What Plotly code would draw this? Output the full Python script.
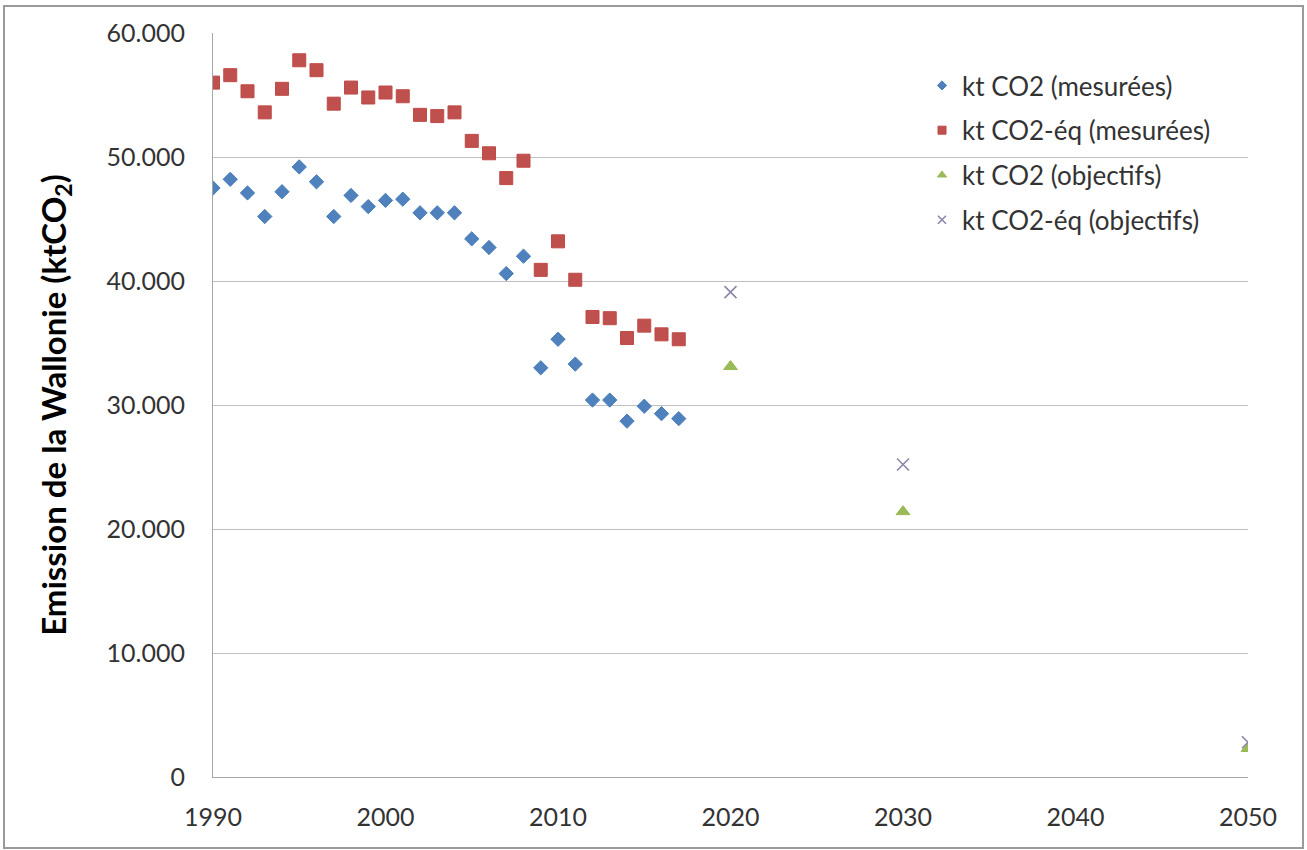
import plotly.graph_objects as go

# ---- data ----
years_meas = [1990, 1991, 1992, 1993, 1994, 1995, 1996, 1997, 1998, 1999,
              2000, 2001, 2002, 2003, 2004, 2005, 2006, 2007, 2008, 2009,
              2010, 2011, 2012, 2013, 2014, 2015, 2016, 2017]
co2_meas = [47500, 48200, 47100, 45200, 47200, 49200, 48000, 45200, 46900, 46000,
            46500, 46600, 45500, 45500, 45500, 43400, 42700, 40600, 42000, 33000,
            35300, 33300, 30400, 30400, 28700, 29900, 29300, 28900]
co2eq_meas = [56000, 56600, 55300, 53600, 55500, 57800, 57000, 54300, 55600, 54800,
              55200, 54900, 53400, 53300, 53600, 51300, 50300, 48300, 49700, 40900,
              43200, 40100, 37100, 37000, 35400, 36400, 35700, 35300]
years_obj = [2020, 2030, 2050]
co2_obj = [33100, 21400, 2300]
co2eq_obj = [39100, 25200, 2800]

series_names = ["kt CO2 (mesurées)", "kt CO2-éq (mesurées)",
                "kt CO2 (objectifs)", "kt CO2-éq (objectifs)"]
y_title = "Emission de la Wallonie (ktCO<sub>2</sub>)"

FONT = "Lato"
TXT = "#333333"

styles = [
    dict(symbol="diamond", color="#4F81BD", line=dict(color="#4A7EBB", width=1)),
    dict(symbol="square", color="#C0504D", line=dict(color="#BE4B48", width=1)),
    dict(symbol="triangle-up", color="#9BBB59", line=dict(color="#98B954", width=1)),
    dict(symbol="x-thin", color="#8C86AA", line=dict(color="#8C86AA", width=1.6)),
]
sizes = [11, 13, 12, 12]
legend_sizes = [7, 8, 8, 8]
xs = [years_meas, years_meas, years_obj, years_obj]
ys = [co2_meas, co2eq_meas, co2_obj, co2eq_obj]

fig = go.Figure()
for i in range(4):
    fig.add_trace(go.Scatter(
        x=xs[i], y=ys[i], mode="markers", name=series_names[i], showlegend=False,
        marker=dict(size=sizes[i], **styles[i])))
# small legend swatches like the original
for i in range(4):
    fig.add_trace(go.Scatter(
        x=[None], y=[None], mode="markers", name=series_names[i],
        legendgroup=f"g{i}", showlegend=True,
        marker=dict(size=legend_sizes[i], **styles[i])))

L, R, T, B = 213, 1248, 33, 777
W, H = 1307, 850
pw, ph = R - L, B - T

def px(x):
    return (x - L) / pw

def py(y):
    return (B - y) / ph

fig.update_layout(
    width=W, height=H,
    margin=dict(l=L, r=W - R, t=T, b=H - B, pad=0),
    paper_bgcolor="white", plot_bgcolor="white",
    separators=",.",
    font=dict(family=FONT, size=25, color=TXT),
    legend=dict(x=px(922), y=py(62), xanchor="left", yanchor="top",
                bgcolor="rgba(0,0,0,0)", font=dict(size=26, color=TXT),
                traceorder="grouped", tracegroupgap=8),
    xaxis=dict(range=[1990, 2050], tickvals=[1990, 2000, 2010, 2020, 2030, 2040, 2050],
               showgrid=False, zeroline=False, showline=True, linecolor="#A6A6A6",
               linewidth=1, ticks="", ticklabelstandoff=18,
               tickfont=dict(size=25, color=TXT)),
    yaxis=dict(range=[0, 60000], dtick=10000, tickformat=",.0f",
               showgrid=True, gridcolor="#BFBFBF", gridwidth=1, zeroline=False,
               showline=True, linecolor="#A6A6A6", linewidth=1, ticks="",
               ticklabelstandoff=22, tickfont=dict(size=25, color=TXT),
               title=dict(text=y_title, standoff=30,
                          font=dict(size=33, color="#000000", family=FONT, weight="bold"))),
    shapes=[dict(type="rect", xref="paper", yref="paper",
                 x0=px(4), x1=px(1303), y0=py(848), y1=py(6),
                 line=dict(color="#9A9A9A", width=2), fillcolor="rgba(0,0,0,0)",
                 layer="below")],
)

fig.write_html("out.html", config={"displayModeBar": False},
               post_script="document.body.style.margin='0px';")
